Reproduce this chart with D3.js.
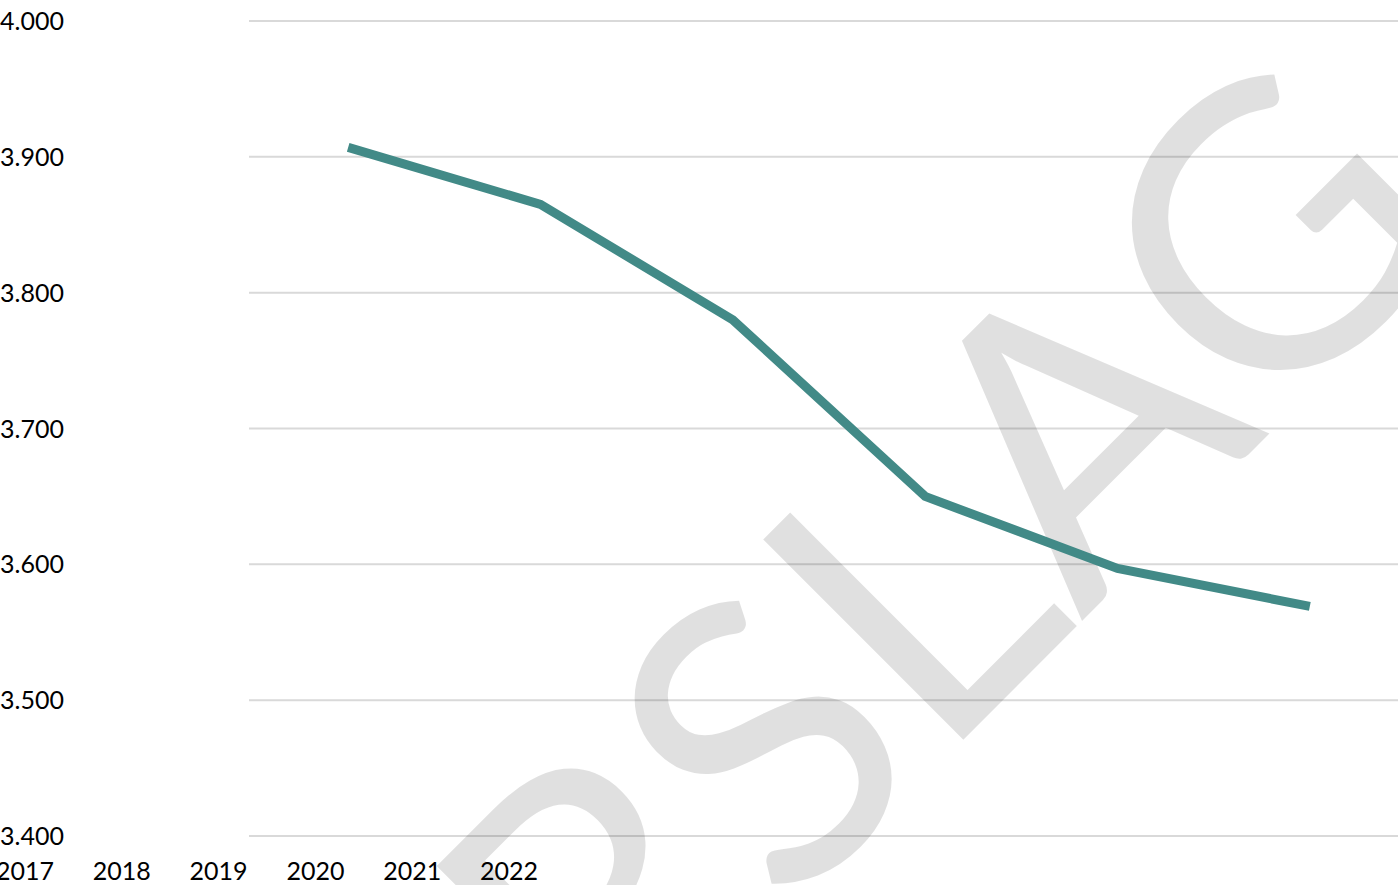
<!DOCTYPE html>
<html>
<head>
<meta charset="utf-8">
<script src="https://cdn.jsdelivr.net/npm/d3@7"></script>
<style>
  html, body { margin: 0; padding: 0; background: #fff; overflow: hidden; }
  text { font-family: Lato, "Open Sans", sans-serif; }
</style>
</head>
<body>
<svg id="chart" width="1398" height="885"></svg>
<script>
// Yearly totals (Dutch number format: "." groups thousands)
const years = ["2017", "2018", "2019", "2020", "2021", "2022"];
const values = [3907, 3865, 3780, 3650, 3597, 3569];
const yTicks = [3400, 3500, 3600, 3700, 3800, 3900, 4000];
const watermark = "VERSLAG";

const W = 1398, H = 885;
const svg = d3.select("#chart");

const nl = d3.formatLocale({ decimal: ",", thousands: ".", grouping: [3], currency: ["€ ", ""] });
const fmt = nl.format(",.0f");

const y = d3.scaleLinear().domain([3400, 4000]).range([836, 21]);
const x = d3.scaleBand().domain(years).range([252, 1406]);
const xLabels = d3.scalePoint().domain(years).range([25, 509]);

// horizontal gridlines
svg.append("g")
  .selectAll("line")
  .data(yTicks)
  .join("line")
  .attr("x1", 249).attr("x2", W)
  .attr("y1", d => y(d)).attr("y2", d => y(d))
  .attr("stroke", "#d9d9d9")
  .attr("stroke-width", 2);

// watermark, rotated along the diagonal
const wm = svg.append("g")
  .attr("transform", "translate(851.5,851.5) rotate(-45)");
const wmText = wm.append("text")
  .attr("x", 0).attr("y", 0)
  .attr("font-size", 395)
  .attr("fill", "#000")
  .attr("fill-opacity", 0.12)
  .text(watermark);
const lStart = wmText.node().getStartPositionOfChar(4).x;
wmText.attr("x", 122 - lStart);

// y-axis labels
svg.append("g")
  .selectAll("text")
  .data(yTicks)
  .join("text")
  .attr("x", 0)
  .attr("y", d => y(d))
  .attr("dy", "0.36em")
  .attr("font-size", 25)
  .attr("fill", "#000")
  .text(d => fmt(d));

// x-axis labels
svg.append("g")
  .selectAll("text")
  .data(years)
  .join("text")
  .attr("x", d => xLabels(d))
  .attr("y", 880)
  .attr("text-anchor", "middle")
  .attr("font-size", 25)
  .attr("fill", "#000")
  .text(d => d);

// the series line
const data = years.map((yr, i) => ({ year: yr, value: values[i] }));
const line = d3.line()
  .x(d => x(d.year) + x.bandwidth() / 2)
  .y(d => y(d.value));

svg.append("path")
  .datum(data)
  .attr("d", line)
  .attr("fill", "none")
  .attr("stroke", "#428a87")
  .attr("stroke-width", 9)
  .attr("stroke-linecap", "butt")
  .attr("stroke-linejoin", "miter");
</script>
</body>
</html>
